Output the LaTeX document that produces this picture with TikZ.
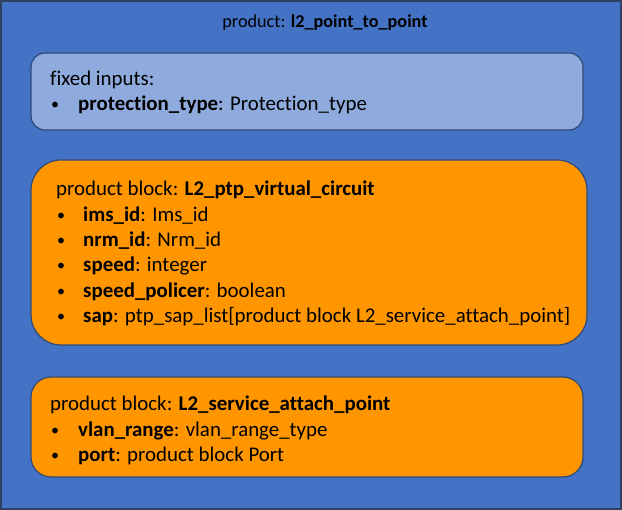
\documentclass[tikz,border=0pt]{standalone}
\usepackage{fontspec}
\setmainfont{Carlito}[Ligatures=NoCommon]
\definecolor{outerblue}{HTML}{4472C4}
\definecolor{darkedge}{HTML}{2F4160}
\definecolor{lightblue}{HTML}{8FAADC}
\definecolor{orangefill}{HTML}{FF9600}
\definecolor{boxedge}{HTML}{2F4A78}
\tikzset{
  x=1pt,y=-1pt,
  txt/.style={anchor=base west,inner sep=0pt,font=\fontsize{20.9}{24}\selectfont},
  bul/.style={anchor=base west,inner sep=0pt,font=\fontsize{16}{20}\selectfont},
  panel/.style={draw=boxedge,line width=1.2pt},
}
\begin{document}
\begin{tikzpicture}
\useasboundingbox (0,0) rectangle (622,510);
\draw[fill=outerblue,draw=darkedge,line width=1.5pt] (1,1) rectangle (621,509);
\node[txt,anchor=base,font=\fontsize{18.2}{22}\selectfont] (title) at (325,28) {product: \textbf{l2\_point\_to\_point}};
% fixed inputs
\draw[panel,fill=lightblue,rounded corners=14pt] (31,53) rectangle (583,130);
\node[txt] (fi) at (50,86) {fixed inputs:};
\node[bul] (fb1) at (51,110) {•};
\node[txt] (f1) at (78,111) {\textbf{protection\_type}: Protection\_type};
% product block 1
\draw[panel,fill=orangefill,rounded corners=30pt] (31,160) rectangle (587,345);
\node[txt] (pb) at (56,196) {product block: \textbf{L2\_ptp\_virtual\_circuit}};
\node[bul] (b1) at (57,220.3) {•};
\node[txt] (l1) at (83,221.3) {\textbf{ims\_id}: Ims\_id};
\node[bul] (b2) at (57,245.6) {•};
\node[txt] (l2) at (83,246.6) {\textbf{nrm\_id}: Nrm\_id};
\node[bul] (b3) at (57,270.9) {•};
\node[txt] (l3) at (83,271.9) {\textbf{speed}: integer};
\node[bul] (b4) at (57,296.2) {•};
\node[txt] (l4) at (83,297.2) {\textbf{speed\_policer}: boolean};
\node[bul] (b5) at (57,321.5) {•};
\node[txt] (l5) at (83,322.5) {\textbf{sap}: ptp\_sap\_list[product block L2\_service\_attach\_point]};
% product block 2
\draw[panel,fill=orangefill,rounded corners=20pt] (31,377) rectangle (583,477);
\node[txt] (pb2) at (50,411) {product block: \textbf{L2\_service\_attach\_point}};
\node[bul] (c1) at (51,435.3) {•};
\node[txt] (m1) at (78,436.3) {\textbf{vlan\_range}: vlan\_range\_type};
\node[bul] (c2) at (51,460.6) {•};
\node[txt] (m2) at (78,461.6) {\textbf{port}: product block Port};
\end{tikzpicture}
\end{document}
